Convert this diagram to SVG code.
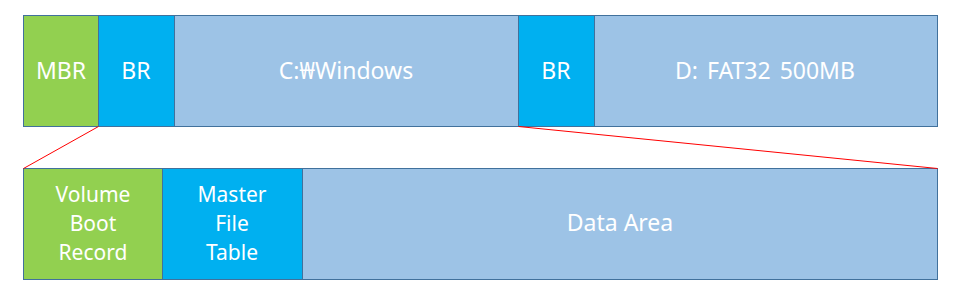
<svg xmlns="http://www.w3.org/2000/svg" width="966" height="300" viewBox="0 0 966 300">
<style>
rect{stroke:#41719C;stroke-width:1}
.g{fill:#92D050}.b{fill:#00B0F0}.l{fill:#9DC3E6}
text{font-family:"Noto Sans","Open Sans",sans-serif;font-size:23px;fill:#FFFFFF;text-anchor:middle}
text.m{font-size:21px}
.c line{stroke:#FF0000;stroke-width:1}
</style>
<rect x="0" y="0" width="966" height="300" fill="#FFFFFF" style="stroke:none"/>
<g id="mbr"><rect class="g" x="23.5" y="15.5" width="75" height="111"/><text x="61" y="79">MBR</text></g>
<g id="br1"><rect class="b" x="98.5" y="15.5" width="76" height="111"/><text x="136" y="79">BR</text></g>
<g id="cwin"><rect class="l" x="174.5" y="15.5" width="344" height="111"/><text x="346" y="79">C:₩Windows</text></g>
<g id="br2"><rect class="b" x="518.5" y="15.5" width="76" height="111"/><text x="556" y="79">BR</text></g>
<g id="dfat"><rect class="l" x="594.5" y="15.5" width="343" height="111"/><text x="765" y="79" style="word-spacing:3px">D: FAT32 500MB</text></g>
<g id="vbr"><rect class="g" x="23.5" y="168.5" width="139" height="111"/><text class="m" x="93" y="202">Volume</text><text class="m" x="93" y="231">Boot</text><text class="m" x="93" y="260">Record</text></g>
<g id="mft"><rect class="b" x="162.5" y="168.5" width="140" height="111"/><text class="m" x="232" y="202">Master</text><text class="m" x="232" y="231">File</text><text class="m" x="232" y="260">Table</text></g>
<g id="data"><rect class="l" x="302.5" y="168.5" width="635" height="111"/><text x="620" y="231">Data Area</text></g>
<g class="c" id="connectors">
<line x1="98.5" y1="126.5" x2="23.5" y2="168.5"/>
<line x1="518.5" y1="126.5" x2="937.5" y2="168.5"/>
</g>
</svg>
